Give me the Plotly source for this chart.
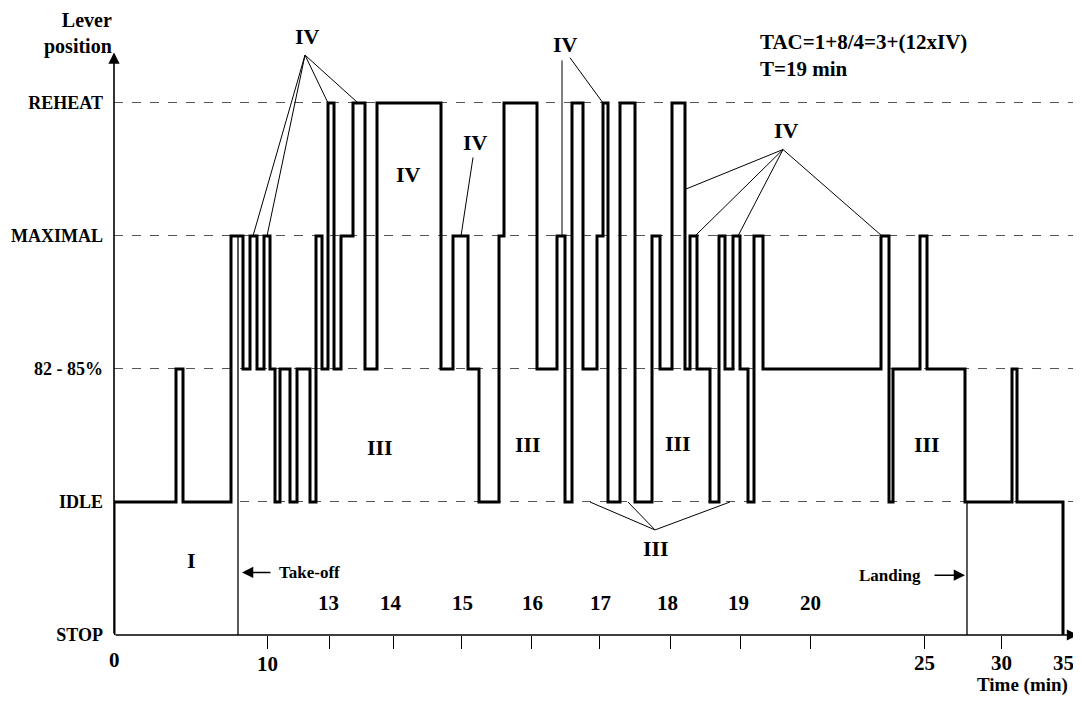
import plotly.graph_objects as go

FONT = "Liberation Serif, Times New Roman, serif"

# Lever levels (y categories)
LEVELS = ["STOP", "IDLE", "82 - 85%", "MAXIMAL", "REHEAT"]

# Lever trace: position along the schematic time axis and lever level after each change
step_pos = [0, 0, 62, 69, 117, 129, 136, 143, 150, 156,
            161, 166, 176, 183, 196, 202, 208, 214, 220, 227,
            239, 251, 263, 327, 339, 354, 365, 385, 390, 423,
            443, 451, 458, 469, 483, 489, 494, 506, 521, 538,
            546, 558, 571, 576, 583, 596, 605, 611, 619, 626,
            634, 640, 649, 767, 775, 779, 806, 813, 851, 898,
            903, 949]
step_level = [0, 1, 2, 1, 3, 2, 3, 2, 3, 2,
              1, 2, 1, 2, 1, 3, 2, 4, 2, 3,
              4, 2, 4, 2, 3, 2, 1, 3, 4, 2,
              3, 1, 4, 2, 3, 4, 1, 4, 1, 3,
              2, 4, 2, 3, 2, 1, 3, 2, 3, 2,
              1, 3, 2, 3, 1, 2, 3, 2, 1, 2,
              1, 0]

# Take-off / landing markers (position, top level)
event_pos = [124, 853]
event_top = [3, 1]

# Time axis ticks (schematic positions) and labels
tick_pos = [153, 215, 279, 347, 417, 485, 556, 626, 696, 810, 887]
upper_labels = ["13", "14", "15", "16", "17", "18", "19", "20"]
upper_label_pos = [214, 277, 348, 418, 486, 553, 624, 696]
lower_labels = ["0", "10", "25", "30", "35"]
lower_label_pos = [0, 153, 810, 887, 949]
lower_label_shift = [-25, -29, -28, -28, -28]

# Callout leader lines: apex -> targets
callouts = [
    {"apex": (191, 4.36), "targets": [(139, 3), (153, 3), (214, 4), (244, 4)]},
    {"apex": (359, 3.59), "targets": [(347, 3)]},
    {"apex": (448, 4.32), "targets": [(448, 3)]},
    {"apex": (456, 4.34), "targets": [(489, 4.0)]},
    {"apex": (669, 3.65), "targets": [(571, 3.35), (581, 3), (624, 3), (768, 3)]},
    {"apex": (541, 0.79), "targets": [(476, 1), (514, 1), (616, 1)]},
]

# Phase labels
phase_text = ["I", "III", "III", "III", "III", "IV", "IV", "IV", "IV", "IV", "III"]
phase_x = [77, 266, 414, 564, 813, 294, 193, 361, 451, 672, 542]
phase_y = [0.56, 1.41, 1.43, 1.44, 1.43, 3.46, 4.50, 3.70, 4.44, 3.79, 0.65]

fig = go.Figure()

fig.add_trace(go.Scatter(
    x=step_pos, y=step_level, mode="lines",
    line=dict(color="black", width=3, shape="hv"),
    hoverinfo="skip", showlegend=False))

for p, top in zip(event_pos, event_top):
    fig.add_trace(go.Scatter(
        x=[p, p], y=[0, top], mode="lines",
        line=dict(color="black", width=1.3),
        hoverinfo="skip", showlegend=False))

for c in callouts:
    xs, ys = [], []
    ax, ay = c["apex"]
    for tx, ty in c["targets"]:
        xs += [ax, tx, None]
        ys += [ay, ty, None]
    fig.add_trace(go.Scatter(
        x=xs, y=ys, mode="lines",
        line=dict(color="black", width=1),
        hoverinfo="skip", showlegend=False))

ann = []
# axis arrows
ann.append(dict(x=0, y=4.38, ax=0, ay=0, xref="x", yref="y", axref="x", ayref="y",
                text="", showarrow=True, arrowhead=2, arrowsize=1.4, arrowwidth=1.6,
                arrowcolor="black", standoff=0, startstandoff=0))
ann.append(dict(x=964, y=0, ax=0, ay=0, xref="x", yref="y", axref="x", ayref="y",
                text="", showarrow=True, arrowhead=2, arrowsize=1.4, arrowwidth=1.6,
                arrowcolor="black", standoff=0, startstandoff=0))

for t, x, y in zip(phase_text, phase_x, phase_y):
    ann.append(dict(x=x, y=y, xref="x", yref="y", text=f"<b>{t}</b>", showarrow=False,
                    font=dict(family=FONT, size=22, color="black")))

for t, x in zip(upper_labels, upper_label_pos):
    ann.append(dict(x=x, y=0.24, xref="x", yref="y", text=f"<b>{t}</b>", showarrow=False,
                    font=dict(family=FONT, size=21, color="black")))
for t, x, s in zip(lower_labels, lower_label_pos, lower_label_shift):
    ann.append(dict(x=x, y=0, yshift=s, xref="x", yref="y", text=f"<b>{t}</b>",
                    showarrow=False, font=dict(family=FONT, size=21, color="black")))

ann.append(dict(x=956, y=0, yshift=-50, xref="x", yref="y", xanchor="right",
                text="<b>Time (min)</b>", showarrow=False,
                font=dict(family=FONT, size=19, color="black")))

ann.append(dict(x=0, y=4.52, xref="paper", yref="y", xanchor="right", align="right",
                text="<b>Lever<br>position</b>", showarrow=False,
                font=dict(family=FONT, size=20, color="black")))

ann.append(dict(x=644, y=4.36, xref="x", yref="y", xanchor="left", align="left",
                text="<b>TAC=1+8/4=3+(12xIV)<br>T=19 min</b>", showarrow=False,
                font=dict(family=FONT, size=21, color="black")))

# take-off / landing labels with arrows
ann.append(dict(x=128, y=0.47, ax=158, ay=0.47, xref="x", yref="y", axref="x", ayref="y",
                text="", showarrow=True, arrowhead=2, arrowsize=1.5, arrowwidth=1.5,
                arrowcolor="black"))
ann.append(dict(x=163, y=0.47, xref="x", yref="y", xanchor="left",
                text="<b>Take-off</b>", showarrow=False,
                font=dict(family=FONT, size=17, color="black")))
ann.append(dict(x=851, y=0.45, ax=819, ay=0.45, xref="x", yref="y", axref="x", ayref="y",
                text="", showarrow=True, arrowhead=2, arrowsize=1.5, arrowwidth=1.5,
                arrowcolor="black"))
ann.append(dict(x=809, y=0.45, xref="x", yref="y", xanchor="right",
                text="<b>Landing</b>", showarrow=False,
                font=dict(family=FONT, size=17, color="black")))

fig.update_layout(
    width=1073, height=690,
    margin=dict(l=106, r=3, t=2, b=63, autoexpand=False),
    paper_bgcolor="white", plot_bgcolor="white",
    showlegend=False,
    annotations=ann,
    xaxis=dict(range=[0, 964], tickvals=tick_pos, ticks="outside", ticklen=13,
               tickwidth=1.2, tickcolor="black", showticklabels=False,
               showgrid=False, zeroline=False, showline=False, fixedrange=True,
               automargin=False),
    yaxis=dict(range=[0, 4.699], tickvals=[0, 1, 2, 3, 4],
               ticktext=[f"<b>{t}</b>" for t in LEVELS],
               tickfont=dict(family=FONT, size=18, color="black"),
               ticks="", ticklabelstandoff=10, automargin=False,
               showgrid=True, griddash="dash", gridcolor="#555", gridwidth=1,
               zeroline=False, showline=False, fixedrange=True),
)

fig.write_html("out.html")
